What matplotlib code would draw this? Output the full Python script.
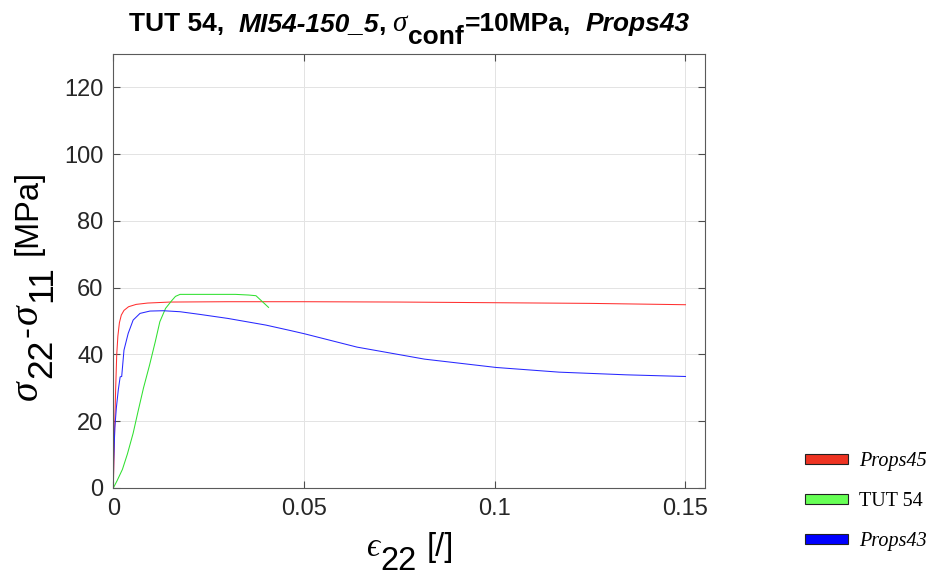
import matplotlib
matplotlib.use("Agg")
import matplotlib.pyplot as plt
from matplotlib.text import Annotation
from matplotlib.patches import Patch

# ---- data -----------------------------------------------------------------
strain_props45 = [0, 0.0002, 0.0004, 0.0006, 0.0009, 0.0012, 0.0016, 0.0021,
                  0.0028, 0.0040, 0.0060, 0.0090, 0.0149, 0.030, 0.050,
                  0.075, 0.100, 0.125, 0.150]
stress_props45 = [0, 10, 20, 29, 40, 45.5, 49.5, 51.8, 53.2, 54.3, 55.0, 55.4,
                  55.7, 55.8, 55.8, 55.7, 55.5, 55.3, 54.9]

strain_tut54 = [0, 0.0010, 0.0024, 0.0037, 0.0052, 0.0065, 0.0079, 0.0095,
                0.0110, 0.0122, 0.0137, 0.0153, 0.0163, 0.0175, 0.0250,
                0.0320, 0.0355, 0.0374, 0.0407]
stress_tut54 = [0, 2.2, 5.6, 10.2, 16.4, 23.0, 29.9, 36.8, 43.8, 49.8, 53.8,
                56.1, 57.4, 58.0, 58.0, 58.0, 57.8, 57.6, 54.1]

strain_props43 = [0, 0.0001, 0.0004, 0.0008, 0.0013, 0.0018, 0.0022, 0.0028,
                  0.0039, 0.0052, 0.0070, 0.0096, 0.0131, 0.0175, 0.0227,
                  0.0300, 0.0400, 0.0463, 0.0501, 0.0639, 0.0816, 0.1004,
                  0.1169, 0.1345, 0.1500]
stress_props43 = [0, 8, 18, 24, 29.3, 33.3, 33.4, 41.3, 46.3, 50.3, 52.3, 53.0,
                  53.1, 52.8, 52.0, 50.8, 48.8, 47.2, 46.2, 42.2, 38.6, 36.1,
                  34.7, 33.9, 33.4]

series_labels = ["Props45", "TUT 54", "Props43"]
series_italic = [True, False, True]
line_colors = ["#ff3030", "#30e030", "#2828ff"]
patch_colors = ["#ee3322", "#66ff55", "#0000ff"]

x_ticks = [0, 0.05, 0.1, 0.15]
x_tick_labels = ["0", "0.05", "0.1", "0.15"]
y_ticks = [0, 20, 40, 60, 80, 100, 120]

# ---- figure ---------------------------------------------------------------
plt.rcParams["font.family"] = ["Liberation Sans", "DejaVu Sans"]
W, H = 932, 579
fig = plt.figure(figsize=(W / 100, H / 100), dpi=100)
ax = fig.add_axes([113.3 / W, (H - 488) / H, (705.3 - 113.3) / W, (488 - 54) / H])

ax.plot(strain_props45, stress_props45, color=line_colors[0], lw=0.75)
ax.plot(strain_tut54, stress_tut54, color=line_colors[1], lw=0.75)
ax.plot(strain_props43, stress_props43, color=line_colors[2], lw=0.75)

ax.set_xlim(0, 0.1552)
ax.set_ylim(0, 130)
ax.set_xticks(x_ticks)
ax.set_xticklabels(x_tick_labels)
ax.set_yticks(y_ticks)
ax.grid(True, color="#e3e3e3", lw=0.7)
ax.set_axisbelow(True)
ax.tick_params(direction="in", length=5, width=0.8, colors="#4d4d4d",
               labelcolor="#262626", labelsize=17, top=True, right=True, pad=7)
for sp in ax.spines.values():
    sp.set_color("#5a5a5a")
    sp.set_linewidth(0.8)


def chain(pieces, x, y, rotation=0):
    """Lay text pieces end to end; each piece is (text, props, gap_pt, shift_pt)."""
    s0, p0, _, sh0 = pieces[0]
    first = fig.text(x, y, s0, ha="left", va="baseline", rotation=rotation,
                     rotation_mode="anchor", **p0)
    arts = [first]
    prev = first
    for s, props, gap, shift in pieces[1:]:
        if rotation == 0:
            xy, coords, off = (1, y), (prev, "figure fraction"), (gap, shift)
        else:
            xy, coords, off = (x, 1), ("figure fraction", prev), (-shift, gap)
        a = Annotation(s, xy=xy, xycoords=coords, xytext=off,
                       textcoords="offset points", ha="left", va="baseline",
                       rotation=rotation, rotation_mode="anchor", **props)
        fig.add_artist(a)
        arts.append(a)
        prev = a
    return arts


def center_chain(arts, center_px, rotation=0):
    fig.canvas.draw()
    r = fig.canvas.get_renderer()
    boxes = [a.get_window_extent(r) for a in arts]
    if rotation == 0:
        lo = min(b.x0 for b in boxes)
        hi = max(b.x1 for b in boxes)
        d = center_px - (lo + hi) / 2
        arts[0].set_x(arts[0].get_position()[0] + d / W)
    else:
        lo = min(b.y0 for b in boxes)
        hi = max(b.y1 for b in boxes)
        d = center_px - (lo + hi) / 2
        arts[0].set_y(arts[0].get_position()[1] + d / H)


# title
ts = 19
bold = dict(fontsize=ts, fontweight="bold", family=["Liberation Sans"])
bolditalic = dict(fontsize=ts, fontweight="bold", style="italic",
                  family=["Liberation Sans"])
greek_t = dict(fontsize=ts + 2, style="italic",
               family=["Liberation Serif", "DejaVu Serif"])
title_pieces = [
    ("TUT 54,", bold, 0, 0),
    ("MI54-150_5", bolditalic, 10.5, 0),
    (",", bold, -0.5, 0),
    ("σ", greek_t, 5.0, 0),
    ("conf", bold, 1.0, -9.5),
    ("=10MPa,", bold, 0.5, 0),
    ("Props43", bolditalic, 10.5, 0),
]
title_arts = chain(title_pieces, 0.13, (H - 31) / H)

# y label
ls = 23.5
sans_l = dict(fontsize=ls, family=["Liberation Sans"])
sub_l = dict(fontsize=ls + 2, family=["Liberation Sans"])
greek_l = dict(fontsize=ls + 5, style="italic",
               family=["Liberation Serif", "DejaVu Serif"])
ylab_pieces = [
    ("σ", greek_l, 0, 0),
    ("22", sub_l, 1.5, -10.5),
    ("-", sans_l, 1.5, 0),
    ("σ", greek_l, 1.5, 0),
    ("11", sub_l, 1.5, -10.5),
    ("[MPa]", sans_l, 7.0, 0),
]
ylab_arts = chain(ylab_pieces, 37 / W, 0.5, rotation=90)

# x label
eps_l = dict(fontsize=ls, style="italic",
             family=["Liberation Serif", "DejaVu Serif"])
xlab_pieces = [
    ("ϵ", eps_l, 0, 0),
    ("22", sans_l, 1.0, -10.0),
    ("[/]", sans_l, 7.0, 0),
]
xlab_arts = chain(xlab_pieces, 0.4, (H - 556) / H)

center_chain(title_arts, 409)
center_chain(ylab_arts, H - 285, rotation=90)
center_chain(xlab_arts, 410)

# legend
handles = [Patch(facecolor=c, edgecolor="#222222", linewidth=0.8)
           for c in patch_colors]
leg = fig.legend(handles, series_labels, loc="upper left",
                 bbox_to_anchor=(805 / W, (H - 452) / H),
                 frameon=False, borderpad=0, borderaxespad=0,
                 prop=dict(family="Liberation Serif", size=14.5),
                 handlelength=2.14, handleheight=0.42, handletextpad=0.55,
                 labelspacing=1.05)
for t, it in zip(leg.get_texts(), series_italic):
    if it:
        t.set_fontstyle("italic")

fig.savefig("out.png", dpi=100)
